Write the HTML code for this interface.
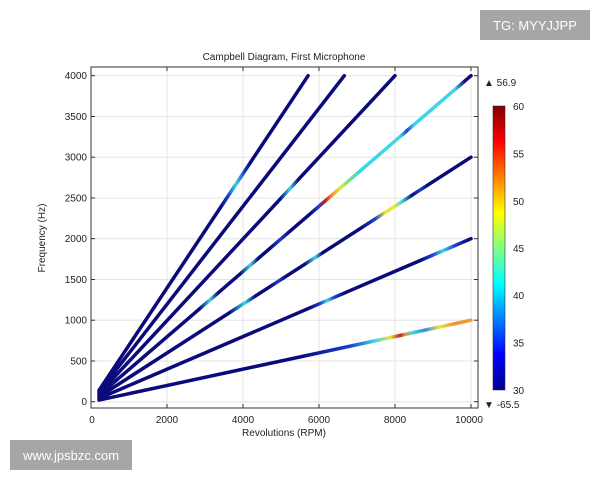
<!DOCTYPE html>
<html><head><meta charset="utf-8"><style>
html,body{margin:0;padding:0;background:#fff;}
svg{display:block;font-family:"Liberation Sans","DejaVu Sans",sans-serif;}
</style></head><body>
<svg width="600" height="480" viewBox="0 0 600 480" xmlns="http://www.w3.org/2000/svg">
<defs>
<linearGradient id="g6" gradientUnits="userSpaceOnUse" x1="0" y1="0" x2="600" y2="0">
<stop offset="0.5" stop-color="#0a0a7a"/><stop offset="0.583" stop-color="#1a3ed0"/><stop offset="0.625" stop-color="#3cd7e6"/><stop offset="0.65" stop-color="#e6e63a"/><stop offset="0.667" stop-color="#c02020"/><stop offset="0.675" stop-color="#f09030"/><stop offset="0.687" stop-color="#3cd7e6"/><stop offset="0.708" stop-color="#3a8ae0"/><stop offset="0.733" stop-color="#e6e63a"/><stop offset="0.758" stop-color="#f09030"/><stop offset="0.79" stop-color="#f0a030"/>
</linearGradient>
<linearGradient id="g12" gradientUnits="userSpaceOnUse" x1="0" y1="0" x2="600" y2="0">
<stop offset="0.517" stop-color="#0a0a7a"/><stop offset="0.533" stop-color="#1a3ed0"/><stop offset="0.545" stop-color="#3cd7e6"/><stop offset="0.558" stop-color="#1a3ed0"/><stop offset="0.575" stop-color="#0a0a7a"/><stop offset="0.7" stop-color="#0a0a7a"/><stop offset="0.72" stop-color="#1a3ed0"/><stop offset="0.738" stop-color="#3cd7e6"/><stop offset="0.758" stop-color="#1a3ed0"/><stop offset="0.78" stop-color="#0a0a7a"/>
</linearGradient>
<linearGradient id="g18" gradientUnits="userSpaceOnUse" x1="0" y1="0" x2="600" y2="0">
<stop offset="0.383" stop-color="#0a0a7a"/><stop offset="0.408" stop-color="#3cd7e6"/><stop offset="0.425" stop-color="#0a0a7a"/><stop offset="0.45" stop-color="#0a0a7a"/><stop offset="0.463" stop-color="#1a3ed0"/><stop offset="0.475" stop-color="#0a0a7a"/><stop offset="0.508" stop-color="#0a0a7a"/><stop offset="0.525" stop-color="#3cd7e6"/><stop offset="0.537" stop-color="#0a0a7a"/><stop offset="0.6" stop-color="#0a0a7a"/><stop offset="0.625" stop-color="#1a3ed0"/><stop offset="0.642" stop-color="#e6e63a"/><stop offset="0.658" stop-color="#e6e63a"/><stop offset="0.67" stop-color="#3cd7e6"/><stop offset="0.687" stop-color="#0a0a7a"/><stop offset="0.7" stop-color="#1a3ed0"/><stop offset="0.713" stop-color="#0a0a7a"/>
</linearGradient>
<linearGradient id="g24" gradientUnits="userSpaceOnUse" x1="0" y1="0" x2="600" y2="0">
<stop offset="0.333" stop-color="#0a0a7a"/><stop offset="0.35" stop-color="#3cd7e6"/><stop offset="0.363" stop-color="#0a0a7a"/><stop offset="0.4" stop-color="#0a0a7a"/><stop offset="0.417" stop-color="#3cd7e6"/><stop offset="0.43" stop-color="#0a0a7a"/><stop offset="0.45" stop-color="#0a0a7a"/><stop offset="0.467" stop-color="#1a3ed0"/><stop offset="0.483" stop-color="#0a0a7a"/><stop offset="0.517" stop-color="#0a0a7a"/><stop offset="0.53" stop-color="#1a3ed0"/><stop offset="0.542" stop-color="#c02020"/><stop offset="0.553" stop-color="#f09030"/><stop offset="0.567" stop-color="#e6e63a"/><stop offset="0.58" stop-color="#7ee07a"/><stop offset="0.6" stop-color="#3cd7e6"/><stop offset="0.667" stop-color="#3cd7e6"/><stop offset="0.678" stop-color="#1a3ed0"/><stop offset="0.69" stop-color="#3cd7e6"/><stop offset="0.758" stop-color="#3cd7e6"/><stop offset="0.775" stop-color="#0a0a7a"/>
</linearGradient>
<linearGradient id="g30" gradientUnits="userSpaceOnUse" x1="0" y1="0" x2="600" y2="0">
<stop offset="0.467" stop-color="#0a0a7a"/><stop offset="0.483" stop-color="#3cd7e6"/><stop offset="0.497" stop-color="#0a0a7a"/>
</linearGradient>
<linearGradient id="g42" gradientUnits="userSpaceOnUse" x1="0" y1="0" x2="600" y2="0">
<stop offset="0.367" stop-color="#0a0a7a"/><stop offset="0.38" stop-color="#1a3ed0"/><stop offset="0.393" stop-color="#3cd7e6"/><stop offset="0.407" stop-color="#1a3ed0"/><stop offset="0.417" stop-color="#0a0a7a"/>
</linearGradient>
<linearGradient id="cb" x1="0" y1="1" x2="0" y2="0">
<stop offset="0" stop-color="#00008f"/><stop offset="0.125" stop-color="#0000ff"/><stop offset="0.375" stop-color="#00ffff"/><stop offset="0.625" stop-color="#ffff00"/><stop offset="0.875" stop-color="#ff0000"/><stop offset="1" stop-color="#800000"/>
</linearGradient>
</defs>

<rect x="480" y="10" width="110" height="30" fill="#a6a6a6"/>
<text x="535" y="30" font-size="13" fill="#fff" text-anchor="middle">TG: MYYJJPP</text>
<rect x="10" y="440" width="122" height="30" fill="#a6a6a6"/>
<text x="71" y="460" font-size="13" fill="#fff" text-anchor="middle">www.jpsbzc.com</text>

<g stroke="#e4e4e4" stroke-width="1">
<line x1="167" y1="67" x2="167" y2="408"/><line x1="243" y1="67" x2="243" y2="408"/><line x1="319" y1="67" x2="319" y2="408"/><line x1="395" y1="67" x2="395" y2="408"/><line x1="471" y1="67" x2="471" y2="408"/>
<line x1="91" y1="401.7" x2="478" y2="401.7"/><line x1="91" y1="361" x2="478" y2="361"/><line x1="91" y1="320.2" x2="478" y2="320.2"/><line x1="91" y1="279.5" x2="478" y2="279.5"/><line x1="91" y1="238.7" x2="478" y2="238.7"/><line x1="91" y1="198" x2="478" y2="198"/><line x1="91" y1="157.2" x2="478" y2="157.2"/><line x1="91" y1="116.5" x2="478" y2="116.5"/><line x1="91" y1="75.7" x2="478" y2="75.7"/>
</g>

<g stroke-width="3.5" stroke-linecap="round" fill="none">
<line x1="99" y1="400.1" x2="471" y2="320.2" stroke="url(#g6)"/>
<line x1="99" y1="398.4" x2="471" y2="238.7" stroke="url(#g12)"/>
<line x1="99" y1="396.8" x2="471" y2="157.2" stroke="url(#g18)"/>
<line x1="99" y1="395.2" x2="471" y2="75.7" stroke="url(#g24)"/>
<line x1="99" y1="393.6" x2="395" y2="75.7" stroke="url(#g30)"/>
<line x1="99" y1="391.9" x2="344.3" y2="75.7" stroke="#0a0a7a"/>
<line x1="99" y1="390.3" x2="308.1" y2="75.7" stroke="url(#g42)"/>
</g>

<rect x="91" y="67" width="387" height="341" fill="none" stroke="#333" stroke-width="1"/>
<g stroke="#333" stroke-width="1">
<line x1="91" y1="401.7" x2="95" y2="401.7"/><line x1="91" y1="361" x2="95" y2="361"/><line x1="91" y1="320.2" x2="95" y2="320.2"/><line x1="91" y1="279.5" x2="95" y2="279.5"/><line x1="91" y1="238.7" x2="95" y2="238.7"/><line x1="91" y1="198" x2="95" y2="198"/><line x1="91" y1="157.2" x2="95" y2="157.2"/><line x1="91" y1="116.5" x2="95" y2="116.5"/><line x1="91" y1="75.7" x2="95" y2="75.7"/>
<line x1="474" y1="401.7" x2="478" y2="401.7"/><line x1="474" y1="361" x2="478" y2="361"/><line x1="474" y1="320.2" x2="478" y2="320.2"/><line x1="474" y1="279.5" x2="478" y2="279.5"/><line x1="474" y1="238.7" x2="478" y2="238.7"/><line x1="474" y1="198" x2="478" y2="198"/><line x1="474" y1="157.2" x2="478" y2="157.2"/><line x1="474" y1="116.5" x2="478" y2="116.5"/><line x1="474" y1="75.7" x2="478" y2="75.7"/>
<line x1="167" y1="67" x2="167" y2="71"/><line x1="243" y1="67" x2="243" y2="71"/><line x1="319" y1="67" x2="319" y2="71"/><line x1="395" y1="67" x2="395" y2="71"/><line x1="471" y1="67" x2="471" y2="71"/>
<line x1="167" y1="404" x2="167" y2="408"/><line x1="243" y1="404" x2="243" y2="408"/><line x1="319" y1="404" x2="319" y2="408"/><line x1="395" y1="404" x2="395" y2="408"/><line x1="471" y1="404" x2="471" y2="408"/>
</g>

<g font-size="10" fill="#222">
<g text-anchor="end">
<text x="87" y="405">0</text><text x="87" y="364.5">500</text><text x="87" y="323.7">1000</text><text x="87" y="283">1500</text><text x="87" y="242.2">2000</text><text x="87" y="201.5">2500</text><text x="87" y="160.7">3000</text><text x="87" y="120">3500</text><text x="87" y="79.2">4000</text>
</g>
<g text-anchor="middle">
<text x="92" y="423">0</text><text x="167" y="423">2000</text><text x="243" y="423">4000</text><text x="319" y="423">6000</text><text x="395" y="423">8000</text><text x="469" y="423">10000</text>
<text x="284" y="436">Revolutions (RPM)</text>
<text x="284" y="60">Campbell Diagram, First Microphone</text>
<text transform="translate(45,238) rotate(-90)">Frequency (Hz)</text>
</g>
<rect x="493" y="106" width="12" height="284" fill="url(#cb)" stroke="#333" stroke-width="0.6"/>
<text x="513" y="110">60</text><text x="513" y="157.5">55</text><text x="513" y="205">50</text><text x="513" y="252">45</text><text x="513" y="299">40</text><text x="513" y="346.5">35</text><text x="513" y="394">30</text>
<text x="484" y="86">▲ 56.9</text>
<text x="484" y="408">▼ -65.5</text>
</g>
</svg>
</body></html>
